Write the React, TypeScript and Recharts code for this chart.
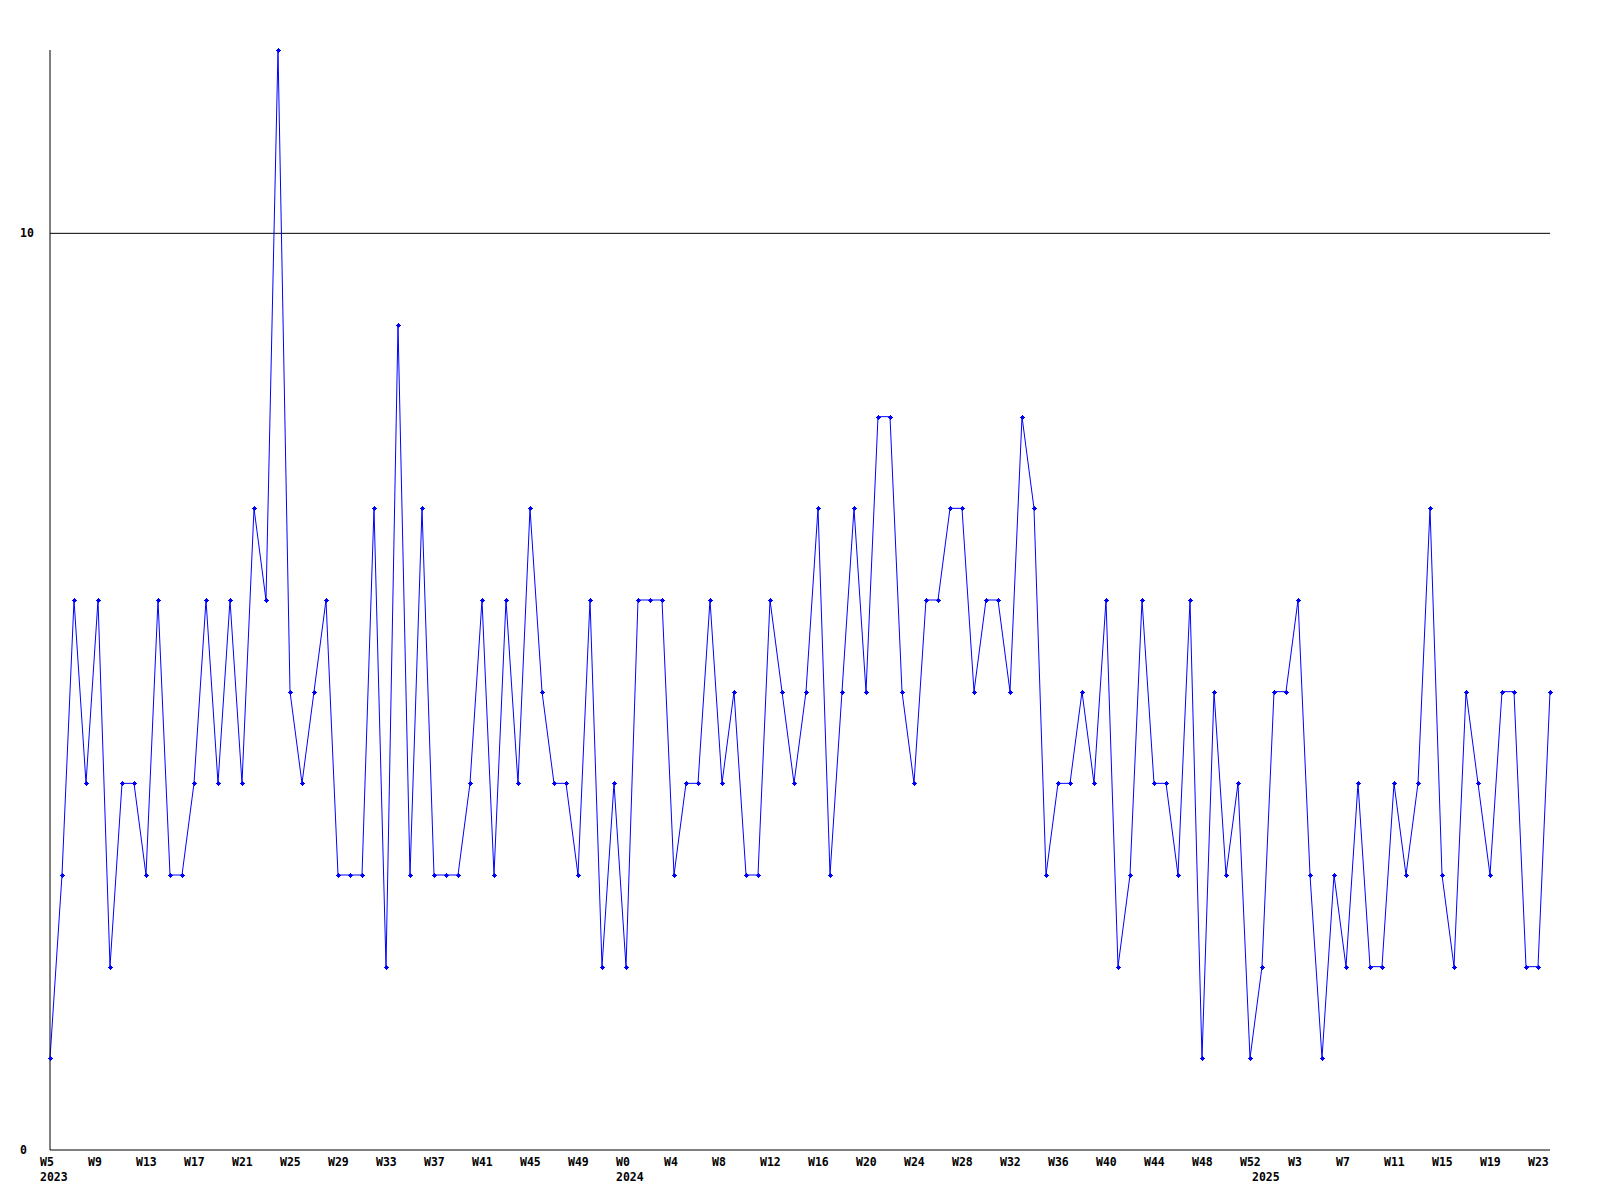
import React from "react";
import { LineChart, Line, XAxis, YAxis, ReferenceLine } from "recharts";

// weekly counts
const years = [2023, 2024, 2025];
const firstWeek = [5, 0, 0];
const counts2023 = [
    1, 3, 6, 4, 6, 2, 4, 4, 3, 6, 3, 3, 4, 6, 4, 6, 4, 7, 6, 12, 5, 4, 5, 6, 3,
    3, 3, 7, 2, 9, 3, 7, 3, 3, 3, 4, 6, 3, 6, 4, 7, 5, 4, 4, 3, 6, 2, 4,
];
const counts2024 = [
    2, 6, 6, 6, 3, 4, 4, 6, 4, 5, 3, 3, 6, 5, 4, 5, 7, 3, 5, 7, 5, 8, 8, 5, 4,
    6, 6, 7, 7, 5, 6, 6, 5, 8, 7, 3, 4, 4, 5, 4, 6, 2, 3, 6, 4, 4, 3, 6, 1, 5,
    3, 4, 1,
];
const counts2025 = [
    2, 5, 5, 6, 3, 1, 3, 2, 4, 2, 2, 4, 3, 4, 7, 3, 2, 5, 4, 3, 5, 5, 2, 2, 5,
];
const yTicks = [0, 10];

const data: { i: number; week: string; year: number | null; count: number }[] = [];
[counts2023, counts2024, counts2025].forEach((arr, yi) => {
    arr.forEach((c, k) => {
        data.push({
            i: data.length,
            week: "W" + (firstWeek[yi] + k),
            year: k === 0 ? years[yi] : null,
            count: c,
        });
    });
});

const xTicks = data.filter((d) => d.i % 4 === 0 || d.year !== null).map((d) => d.i);

const font = "'DejaVu Sans Mono', 'Liberation Mono', monospace";

const XTick = (props: any) => {
    const { x, y, payload } = props;
    const d = data[payload.value];
    return (
        <g>
            {d.i % 4 === 0 && (
                <text x={x - 10} y={y + 16} fontFamily={font} fontWeight="bold" fontSize={11.5} fill="#000">
                    {d.week}
                </text>
            )}
            {d.year !== null && (
                <text x={x - 10} y={y + 31} fontFamily={font} fontWeight="bold" fontSize={11.5} fill="#000">
                    {d.year}
                </text>
            )}
        </g>
    );
};

const YTick = (props: any) => {
    const { x, y, payload } = props;
    return (
        <text x={x - 30} y={y + 4} fontFamily={font} fontWeight="bold" fontSize={11.5} fill="#000">
            {payload.value}
        </text>
    );
};

// small plus-shaped marker like the original
const Dot = (props: any) => {
    const { cx, cy } = props;
    if (cx == null || cy == null) return null;
    const x = Math.round(cx);
    const y = Math.round(cy);
    return (
        <g fill="#0000ff" shapeRendering="crispEdges">
            <rect x={x - 2.5} y={y - 0.5} width={5} height={1} />
            <rect x={x - 0.5} y={y - 2.5} width={1} height={5} />
            <rect x={x - 1.5} y={y - 1.5} width={3} height={3} />
        </g>
    );
};

export default function App() {
    return (
        <LineChart
            width={1584}
            height={1184}
            data={data}
            margin={{ top: 42, right: 42, bottom: 0, left: 0 }}
        >
            <XAxis
                dataKey="i"
                type="number"
                domain={[0, data.length - 1]}
                ticks={xTicks}
                interval={0}
                height={42}
                tickSize={0}
                tickMargin={0}
                tickLine={false}
                axisLine={{ stroke: "#000" }}
                tick={<XTick />}
            />
            <YAxis
                domain={[0, 12]}
                ticks={yTicks}
                width={42}
                tickSize={0}
                tickMargin={0}
                tickLine={false}
                axisLine={{ stroke: "#000" }}
                tick={<YTick />}
            />
            <ReferenceLine y={10} stroke="#000" />
            <Line
                dataKey="count"
                type="linear"
                stroke="#0000ff"
                strokeWidth={1}
                dot={<Dot />}
                activeDot={false}
                isAnimationActive={false}
            />
        </LineChart>
    );
}
